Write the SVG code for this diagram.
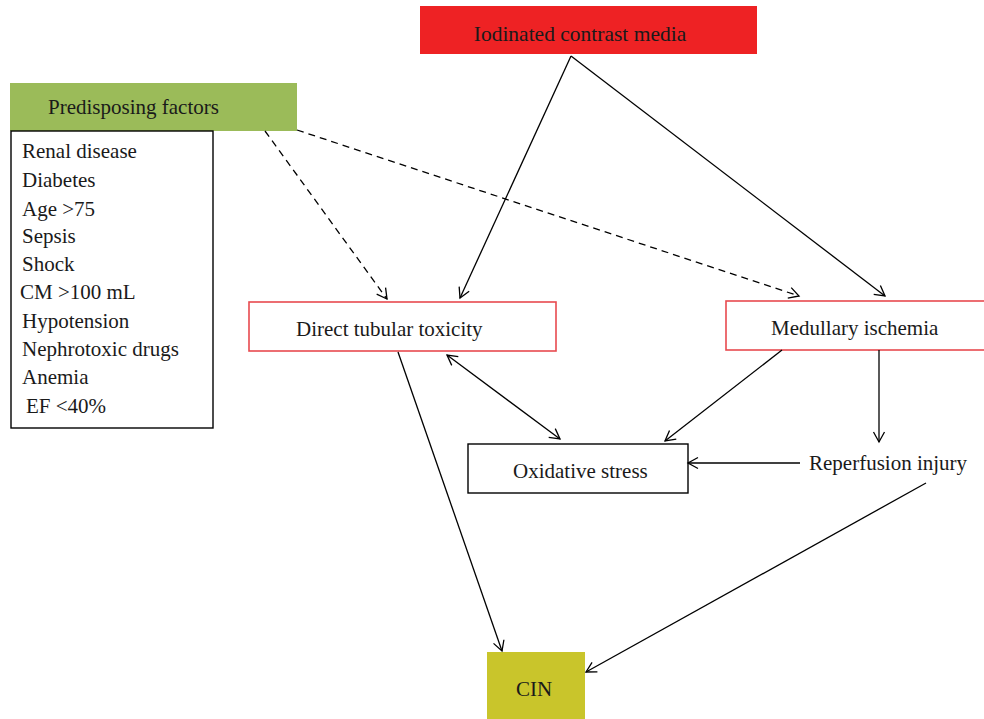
<svg xmlns="http://www.w3.org/2000/svg" width="984" height="719" viewBox="0 0 984 719">
<style>
text{font-family:"Liberation Serif","Times New Roman",serif;font-size:21px;fill:#1a1a1a}
.ln{stroke:#000;stroke-width:1.3;fill:none}
.dash{stroke-dasharray:7 5}
.redb{fill:#fff;stroke:#e84a4f;stroke-width:1.6}
.blkb{fill:#fff;stroke:#000;stroke-width:1.4}
</style>
<defs>
<marker id="ah" markerUnits="userSpaceOnUse" markerWidth="14" markerHeight="14" viewBox="-12 -7 14 14" refX="0" refY="0" orient="auto-start-reverse">
<path d="M -10 -5.5 L 0 0 L -10 5.5" fill="none" stroke="#000" stroke-width="1.3"/>
</marker>
</defs>
<rect width="984" height="719" fill="#fff"/>
<g id="contrast">
<rect x="420" y="6" width="337" height="48" fill="#ee2224"/>
<text x="580" y="41" text-anchor="middle" style="font-size:21.5px">Iodinated contrast media</text>
</g>
<g id="predisposing">
<rect x="10" y="83" width="287" height="48" fill="#9bbb59"/>
<text x="48" y="114">Predisposing factors</text>
</g>
<g id="factors">
<rect x="11" y="131" width="202" height="297" class="blkb"/>
<text x="22" y="158">Renal disease</text>
<text x="22" y="187">Diabetes</text>
<text x="22" y="216">Age &gt;75</text>
<text x="22" y="243">Sepsis</text>
<text x="22" y="271">Shock</text>
<text x="20" y="299">CM &gt;100 mL</text>
<text x="22" y="328">Hypotension</text>
<text x="22" y="356">Nephrotoxic drugs</text>
<text x="22" y="384">Anemia</text>
<text x="26" y="413">EF &lt;40%</text>
</g>
<g id="tubular">
<rect x="249" y="302" width="307" height="49" class="redb"/>
<text x="296" y="336">Direct tubular toxicity</text>
</g>
<g id="medullary">
<rect x="726" y="301" width="262" height="49" class="redb"/>
<text x="771" y="335">Medullary ischemia</text>
</g>
<g id="oxidative">
<rect x="468" y="444" width="220" height="49" class="blkb"/>
<text x="513" y="478">Oxidative stress</text>
</g>
<g id="reperfusion">
<text x="809" y="470">Reperfusion injury</text>
</g>
<g id="cin">
<rect x="487" y="652" width="98" height="67" fill="#c9c52b"/>
<text x="534" y="696" text-anchor="middle">CIN</text>
</g>
<g id="connectors">
<line class="ln" x1="571" y1="56" x2="460" y2="298" marker-end="url(#ah)"/>
<line class="ln" x1="571" y1="56" x2="885" y2="296" marker-end="url(#ah)"/>
<line class="ln dash" x1="265" y1="131" x2="387" y2="299" marker-end="url(#ah)"/>
<line class="ln dash" x1="297" y1="130" x2="799" y2="296" marker-end="url(#ah)"/>
<line class="ln" x1="398" y1="352" x2="502" y2="651" marker-end="url(#ah)"/>
<line class="ln" x1="447" y1="355" x2="560" y2="439" marker-start="url(#ah)" marker-end="url(#ah)"/>
<line class="ln" x1="782" y1="350" x2="665" y2="441" marker-end="url(#ah)"/>
<line class="ln" x1="879" y1="350" x2="879" y2="442" marker-end="url(#ah)"/>
<line class="ln" x1="800" y1="463" x2="688" y2="463" marker-end="url(#ah)"/>
<line class="ln" x1="926" y1="483" x2="586" y2="672" marker-end="url(#ah)"/>
</g>
</svg>
